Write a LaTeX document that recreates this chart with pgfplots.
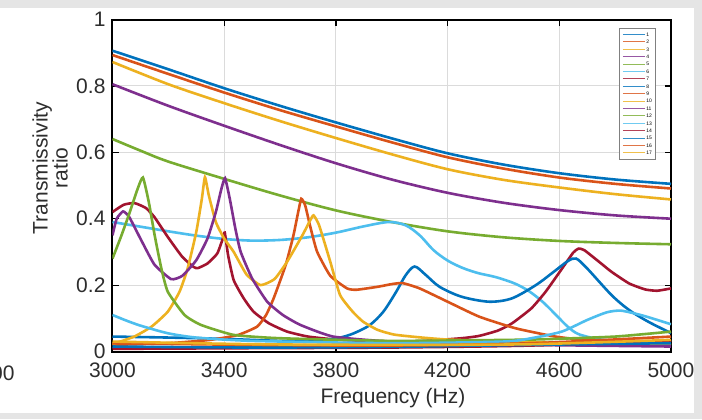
\documentclass[border=0pt]{standalone}
\usepackage{fontspec}
\setmainfont{Liberation Sans}
\usepackage{pgfplots}
\pgfplotsset{compat=1.18}
\definecolor{mb}{RGB}{0,114,189}
\definecolor{mo}{RGB}{217,83,25}
\definecolor{my}{RGB}{237,177,32}
\definecolor{mp}{RGB}{126,47,142}
\definecolor{mg}{RGB}{119,172,48}
\definecolor{mc}{RGB}{77,190,238}
\definecolor{mr}{RGB}{162,20,47}
\definecolor{bggray}{RGB}{229,229,229}
\definecolor{txt}{RGB}{45,45,45}

\begin{document}
\begin{tikzpicture}
\fill[bggray] (0pt,0pt) rectangle (351pt,209.5pt);
\path[use as bounding box] (0pt,0pt) rectangle (351pt,209.5pt);
\fill[white] (0pt,3pt) rectangle (347pt,205.5pt);

\begin{axis}[
    at={(56.25pt,33.75pt)}, anchor=south west,
    scale only axis, width=279.25pt, height=166pt,
    xmin=3000, xmax=5000, ymin=0, ymax=1,
    xtick={3000,3400,3800,4200,4600,5000},
    ytick={0,0.2,0.4,0.6,0.8,1},
    tick pos=both, xticklabel pos=lower, yticklabel pos=left,
    grid=major,
    major grid style={draw=black!14, line width=0.5pt},
    axis line style={black, line width=1pt},
    tick style={black, line width=0.6pt},
    tick align=inside, major tick length=3pt,
    ticklabel style={font=\fontsize{10.5}{12}\selectfont, text=txt},
    xticklabel style={yshift=-2.25pt},
    /pgf/number format/assume math mode=true,
    /pgf/number format/1000 sep={},
    scaled x ticks=false,
    every axis plot/.append style={line width=1.3pt},
    legend style={at={(0.973,0.974)}, anchor=north east,
        font=\fontsize{2.5}{3}\selectfont, draw=black!50, line width=0.3pt,
        inner xsep=1.5pt, inner ysep=1.2pt, row sep=0pt,
        nodes={inner sep=0.4pt, text height=2.3pt, text depth=0.6pt}},
    legend cell align=left,
    legend image code/.code={\draw[#1, line width=0.5pt, opacity=0.8] (0pt,0pt) -- (11pt,0pt);},
]
% 1-5: smooth decreasing curves
\addplot[mb, smooth] coordinates {(3000,.906)(3200,.85)(3400,.793)(3600,.74)(3800,.69)(4000,.642)(4200,.597)(4400,.563)(4600,.537)(4800,.518)(5000,.505)};
\addlegendentry{1}
\addplot[mo, smooth] coordinates {(3000,.893)(3200,.836)(3400,.78)(3600,.727)(3800,.678)(4000,.63)(4200,.585)(4400,.551)(4600,.524)(4800,.505)(5000,.491)};
\addlegendentry{2}
\addplot[my, smooth] coordinates {(3000,.872)(3200,.805)(3400,.748)(3600,.694)(3800,.643)(4000,.594)(4200,.549)(4400,.517)(4600,.494)(4800,.474)(5000,.458)};
\addlegendentry{3}
\addplot[mp, smooth] coordinates {(3000,.805)(3200,.74)(3400,.68)(3600,.622)(3800,.567)(4000,.518)(4200,.478)(4400,.448)(4600,.426)(4800,.41)(5000,.40)};
\addlegendentry{4}
\addplot[mg, smooth] coordinates {(3000,.64)(3100,.605)(3200,.572)(3400,.52)(3600,.47)(3800,.425)(4000,.39)(4200,.362)(4400,.344)(4600,.333)(4800,.327)(5000,.323)};
\addlegendentry{5}
% 6-13: resonant curves
\addplot[mc, smooth, tension=0.5] coordinates {(3000,.39)(3100,.376)(3200,.362)(3300,.349)(3400,.339)(3500,.334)(3600,.336)(3700,.344)(3800,.358)(3900,.377)(3990,.39)(4050,.38)(4100,.35)(4150,.305)(4200,.274)(4253,.252)(4310,.236)(4373,.224)(4440,.205)(4491,.182)(4540,.15)(4586,.112)(4630,.075)(4670,.052)(4750,.036)(4850,.03)(5000,.028)};
\addlegendentry{6}
\addplot[mr, smooth, tension=0.3] coordinates {(3000,.42)(3040,.442)(3079,.447)(3120,.432)(3150,.405)(3198,.345)(3250,.285)(3290,.255)(3305,.251)(3340,.265)(3375,.295)(3395,.34)(3402,.358)(3414,.29)(3434,.215)(3470,.16)(3505,.12)(3560,.085)(3625,.06)(3700,.045)(3800,.036)(3950,.03)(4100,.031)(4250,.04)(4313,.047)(4380,.063)(4431,.085)(4500,.13)(4551,.18)(4610,.25)(4650,.298)(4669,.31)(4690,.305)(4750,.265)(4787,.24)(4850,.205)(4907,.187)(4950,.183)(5000,.19)};
\addlegendentry{7}
\addplot[mb, smooth, tension=0.5] coordinates {(3000,.045)(3200,.042)(3400,.038)(3600,.032)(3700,.032)(3780,.037)(3830,.045)(3870,.057)(3922,.08)(3970,.12)(4016,.18)(4050,.23)(4082,.256)(4120,.232)(4171,.195)(4250,.165)(4349,.15)(4430,.16)(4516,.2)(4580,.24)(4630,.272)(4660,.28)(4700,.25)(4787,.17)(4850,.125)(4918,.09)(4989,.06)(5000,.055)};
\addlegendentry{8}
\addplot[mo, smooth, tension=0.3] coordinates {(3000,.02)(3200,.025)(3350,.035)(3450,.05)(3518,.075)(3550,.11)(3577,.16)(3620,.26)(3648,.35)(3665,.42)(3676,.46)(3690,.44)(3710,.37)(3733,.30)(3780,.228)(3840,.19)(3874,.186)(3950,.195)(4000,.203)(4039,.206)(4100,.19)(4195,.152)(4313,.105)(4443,.07)(4586,.045)(4700,.035)(5000,.03)};
\addlegendentry{9}
\addplot[my, smooth, tension=0.3] coordinates {(3000,.022)(3078,.045)(3140,.075)(3198,.12)(3240,.18)(3269,.25)(3300,.36)(3320,.46)(3331,.525)(3345,.47)(3370,.39)(3400,.34)(3434,.30)(3480,.232)(3530,.20)(3580,.218)(3625,.27)(3680,.35)(3708,.395)(3720,.41)(3740,.38)(3780,.27)(3815,.17)(3860,.12)(3897,.09)(3950,.065)(4016,.05)(4200,.036)(4600,.026)(5000,.02)};
\addlegendentry{10}
\addplot[mp, smooth, tension=0.3] coordinates {(3000,.35)(3015,.40)(3038,.422)(3060,.405)(3100,.34)(3150,.262)(3210,.218)(3250,.228)(3300,.275)(3340,.34)(3370,.42)(3390,.49)(3403,.522)(3420,.46)(3440,.37)(3459,.30)(3500,.22)(3554,.15)(3610,.11)(3673,.08)(3790,.045)(4000,.03)(4500,.02)(5000,.015)};
\addlegendentry{11}
\addplot[mg, smooth, tension=0.3] coordinates {(3000,.28)(3030,.345)(3060,.415)(3090,.49)(3109,.524)(3130,.45)(3151,.35)(3175,.25)(3198,.18)(3258,.11)(3317,.08)(3434,.05)(3600,.04)(4000,.032)(4500,.036)(4800,.045)(5000,.06)};
\addlegendentry{12}
\addplot[mc, smooth, tension=0.4] coordinates {(3000,.11)(3050,.093)(3100,.078)(3198,.055)(3300,.042)(3500,.032)(4000,.025)(4400,.03)(4500,.04)(4609,.06)(4700,.095)(4770,.118)(4822,.123)(4900,.108)(4989,.085)(5000,.082)};
\addlegendentry{13}
% 14-17: near-zero curves
\addplot[mr, smooth] coordinates {(3000,.008)(3500,.01)(4000,.012)(4500,.018)(5000,.032)};
\addlegendentry{14}
\addplot[mb, smooth] coordinates {(3000,.015)(3500,.012)(4000,.014)(4500,.02)(5000,.025)};
\addlegendentry{15}
\addplot[mo, smooth] coordinates {(3000,.025)(3500,.02)(4000,.018)(4500,.025)(5000,.045)};
\addlegendentry{16}
\addplot[my, smooth] coordinates {(3000,.03)(3500,.022)(4000,.02)(4500,.022)(5000,.035)};
\addlegendentry{17}
\end{axis}

\node[font=\fontsize{10.5}{12}\selectfont, text=txt, anchor=base] at (196.5pt,7.8pt) {Frequency (Hz)};
\node[font=\fontsize{10.5}{10}\selectfont, text=txt, rotate=90, align=center] at (25pt,125.5pt) {Transmissivity\\ratio};
\node[font=\fontsize{10.5}{12}\selectfont, text=txt, anchor=base east, inner sep=0pt] at (7.5pt,19.5pt) {00};
\end{tikzpicture}
\end{document}
